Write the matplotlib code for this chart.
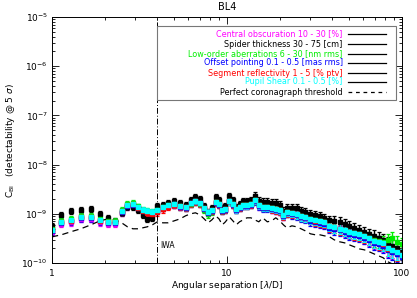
import numpy as np
import matplotlib
matplotlib.use('Agg')
import matplotlib.pyplot as plt
from matplotlib.ticker import NullFormatter
from matplotlib.patches import Rectangle

plt.rcParams['mathtext.fontset'] = 'dejavusans'

# angular separation [lambda/D]
sep = [1.0, 1.13, 1.28, 1.46, 1.67, 1.88, 2.1, 2.3, 2.5, 2.7,
       2.9, 3.1, 3.3, 3.5, 3.75, 4.0, 4.3, 4.6, 5.0, 5.4,
       5.8, 6.2, 6.6, 7.0, 7.4, 7.8, 8.2, 8.6, 9.0, 9.4,
       9.8, 10.3, 10.8, 11.3, 11.8, 12.4, 13.0, 13.7, 14.4, 15.2,
       16, 17, 18, 19, 20, 21, 22, 23.5, 25, 26.5,
       28, 30, 32, 34, 36, 38.5, 41, 44, 47, 50,
       53.5, 57, 61, 65, 69, 73.5, 78, 83, 88, 94, 100]

# contrast curves, in units of 1e-9
central_obsc = [0.42, 0.62, 0.67, 0.78, 0.78, 0.67, 0.62, 0.62, 1.05, 1.42,
                1.50, 1.30, 1.12, 1.06, 1.02, 1.15, 1.33, 1.46, 1.54, 1.40,
                1.34, 1.62, 1.78, 1.62, 1.28, 1.06, 1.17, 1.70, 1.55, 1.17,
                1.22, 1.78, 1.55, 1.22, 1.35, 1.47, 1.47, 1.55, 1.87, 1.47,
                1.35, 1.35, 1.28, 1.22, 1.17, 0.92, 1.07, 1.02, 0.97, 0.88,
                0.84, 0.77, 0.73, 0.70, 0.67, 0.55, 0.52, 0.48, 0.45, 0.41,
                0.39, 0.37, 0.34, 0.31, 0.265, 0.255, 0.235, 0.19, 0.175, 0.16, 0.138]
spider = [0.57, 0.95, 1.15, 1.21, 1.26, 1.00, 0.83, 0.72, 1.05, 1.39,
          1.39, 1.21, 0.95, 0.79, 0.83, 1.45, 1.52, 1.67, 1.84, 1.67,
          1.52, 1.93, 2.22, 2.02, 1.45, 1.10, 1.32, 2.22, 1.93, 1.32,
          1.45, 2.32, 1.93, 1.39, 1.60, 1.84, 1.84, 1.93, 2.32, 1.84,
          1.75, 1.75, 1.67, 1.67, 1.52, 1.15, 1.32, 1.32, 1.32, 1.15,
          1.10, 1.00, 0.95, 0.91, 0.83, 0.75, 0.72, 0.69, 0.63, 0.57,
          0.52, 0.47, 0.43, 0.39, 0.36, 0.325, 0.30, 0.26, 0.22, 0.20, 0.17]
low_order = [0.50, 0.73, 0.79, 0.91, 0.91, 0.79, 0.72, 0.72, 1.20, 1.58,
             1.66, 1.42, 1.21, 1.15, 1.08, 1.18, 1.36, 1.50, 1.58, 1.42,
             1.34, 1.60, 1.80, 1.60, 1.22, 0.98, 1.12, 1.70, 1.55, 1.15,
             1.22, 1.80, 1.58, 1.24, 1.36, 1.50, 1.50, 1.58, 1.90, 1.50,
             1.37, 1.37, 1.30, 1.24, 1.19, 0.94, 1.08, 1.04, 0.99, 0.90,
             0.86, 0.78, 0.74, 0.71, 0.68, 0.57, 0.54, 0.50, 0.47, 0.43,
             0.41, 0.39, 0.36, 0.33, 0.29, 0.28, 0.27, 0.30, 0.33, 0.27, 0.24]
offset_pointing = [0.44, 0.65, 0.70, 0.81, 0.81, 0.70, 0.65, 0.65, 1.08, 1.45,
                   1.53, 1.33, 1.15, 1.09, 1.04, 1.16, 1.34, 1.47, 1.55, 1.40,
                   1.34, 1.62, 1.78, 1.62, 1.27, 1.05, 1.16, 1.69, 1.54, 1.16,
                   1.21, 1.78, 1.54, 1.21, 1.33, 1.46, 1.46, 1.54, 1.86, 1.46,
                   1.33, 1.33, 1.26, 1.20, 1.15, 0.90, 1.04, 0.99, 0.94, 0.85,
                   0.81, 0.73, 0.69, 0.66, 0.63, 0.52, 0.49, 0.46, 0.43, 0.39,
                   0.37, 0.355, 0.33, 0.295, 0.255, 0.245, 0.225, 0.18, 0.17, 0.155, 0.133]
segment_refl = [0.46, 0.67, 0.73, 0.85, 0.85, 0.73, 0.67, 0.67, 1.12, 1.48,
                1.56, 1.33, 1.12, 1.04, 0.99, 1.08, 1.25, 1.40, 1.52, 1.42,
                1.36, 1.63, 1.80, 1.63, 1.29, 1.08, 1.18, 1.71, 1.57, 1.18,
                1.23, 1.80, 1.57, 1.23, 1.36, 1.49, 1.49, 1.57, 1.89, 1.49,
                1.36, 1.36, 1.29, 1.23, 1.18, 0.93, 1.08, 1.03, 0.98, 0.89,
                0.85, 0.77, 0.73, 0.70, 0.67, 0.56, 0.53, 0.49, 0.46, 0.42,
                0.40, 0.38, 0.35, 0.32, 0.275, 0.265, 0.245, 0.195, 0.18, 0.165, 0.144]
pupil_shear = [0.47, 0.69, 0.75, 0.87, 0.87, 0.75, 0.69, 0.69, 1.15, 1.52,
               1.60, 1.39, 1.21, 1.15, 1.10, 1.21, 1.39, 1.52, 1.60, 1.45,
               1.39, 1.67, 1.84, 1.67, 1.32, 1.10, 1.21, 1.75, 1.60, 1.21,
               1.26, 1.84, 1.60, 1.26, 1.39, 1.52, 1.52, 1.60, 1.93, 1.52,
               1.39, 1.39, 1.32, 1.26, 1.21, 0.95, 1.10, 1.05, 1.00, 0.91,
               0.87, 0.79, 0.75, 0.72, 0.69, 0.57, 0.54, 0.50, 0.47, 0.43,
               0.41, 0.39, 0.36, 0.325, 0.28, 0.27, 0.25, 0.20, 0.185, 0.17, 0.147]
threshold = [0.341, 0.374, 0.431, 0.496, 0.598, 0.721, 0.791, 0.755, 0.656, 0.544,
             0.496, 0.496, 0.519, 0.544, 0.598, 0.688, 0.656, 0.656, 0.721, 0.791,
             0.911, 1.0, 1.048, 0.954, 0.791, 0.656, 0.755, 0.911, 0.791, 0.598,
             0.688, 0.869, 0.721, 0.598, 0.688, 0.755, 0.829, 0.829, 0.755, 0.688,
             0.829, 0.688, 0.721, 0.829, 0.721, 0.598, 0.519, 0.570, 0.544, 0.496,
             0.451, 0.392, 0.374, 0.374, 0.357, 0.341, 0.296, 0.270, 0.257, 0.234,
             0.213, 0.194, 0.185, 0.169, 0.154, 0.140, 0.128, 0.106, 0.096, 0.084, 0.080]
# relative spread of each point
rel_err = [0.15, 0.14, 0.14, 0.14, 0.14, 0.14, 0.14, 0.14, 0.14, 0.14,
           0.14, 0.14, 0.14, 0.14, 0.15, 0.15, 0.15, 0.15, 0.15, 0.15,
           0.15, 0.15, 0.15, 0.15, 0.15, 0.15, 0.15, 0.15, 0.15, 0.15,
           0.15, 0.16, 0.16, 0.16, 0.16, 0.16, 0.16, 0.16, 0.17, 0.17,
           0.17, 0.17, 0.18, 0.18, 0.18, 0.18, 0.19, 0.19, 0.20, 0.20,
           0.20, 0.21, 0.21, 0.22, 0.22, 0.22, 0.23, 0.24, 0.24, 0.25,
           0.25, 0.26, 0.27, 0.28, 0.28, 0.29, 0.30, 0.30, 0.31, 0.32, 0.33]

labels = ['Central obscuration 10 - 30 [%]',
          'Spider thickness 30 - 75 [cm]',
          'Low-order aberrations 6 - 30 [nm rms]',
          'Offset pointing 0.1 - 0.5 [mas rms]',
          'Segment reflectivity 1 - 5 [% ptv]',
          'Pupil Shear 0.1 - 0.5 [%]']
colors = ['#ff00ff', 'black', '#00ee00', '#0000ff', '#ff0000', '#00ffff']
series = [central_obsc, spider, low_order, offset_pointing, segment_refl, pupil_shear]

fig = plt.figure(figsize=(4.17, 2.98), dpi=100)
ax = fig.add_axes([0.1247, 0.1174, 0.8393, 0.8256])

x = np.array(sep)
err = np.array(rel_err)
for vals, c in zip(series, colors):
    y = np.array(vals) * 1e-9
    ax.errorbar(x, y, yerr=err * y, fmt='s', ms=3.0, color=c, mec=c, ecolor=c,
                elinewidth=1.0, capsize=1.4, capthick=0.9)

ax.plot(x, np.array(threshold) * 1e-9, color='black', lw=0.9, ls=(0, (5, 3.5)))

# inner working angle
ax.axvline(4.0, color='black', lw=0.7, ls=(0, (6, 2, 1, 2)))
ax.text(4.15, 2.25e-10, 'IWA', fontsize=5.5, ha='left', va='center')

ax.set_xscale('log')
ax.set_yscale('log')
ax.set_xlim(1, 100)
ax.set_ylim(1e-10, 1e-5)
ax.set_xticks([1, 10, 100], ['1', '10', '100'])
ax.xaxis.set_minor_formatter(NullFormatter())
ax.tick_params(which='both', direction='in', top=True, right=True, labelsize=6.5, width=0.6)
ax.tick_params(which='major', length=5)
ax.tick_params(which='minor', length=2.5)
ax.tick_params(axis='x', pad=4)
ax.tick_params(axis='y', pad=3)
for s in ax.spines.values():
    s.set_linewidth(0.7)

ax.set_xlabel(r'Angular separation [$\lambda$/D]', fontsize=6.5, labelpad=1)
ax.set_ylabel(r'C$_{\rm BI}$   (detectability @ 5 $\sigma$)', fontsize=6.5, labelpad=3)
ax.set_title('BL4', fontsize=7, pad=5)

# legend box drawn by hand: coloured labels, black line samples
ax.add_patch(Rectangle((0.30, 0.663), 0.683, 0.30, transform=ax.transAxes,
                       fill=True, fc='white', ec='#777777', lw=0.8, zorder=5))
rows = [0.931, 0.890, 0.850, 0.813, 0.772, 0.736]
for lab, c, ry in zip(labels, colors, rows):
    ax.text(0.831, ry, lab, color=c, fontsize=5.8, ha='right', va='center',
            transform=ax.transAxes, zorder=6)
    ax.plot([0.846, 0.954], [ry, ry], color='black', lw=0.9, transform=ax.transAxes, zorder=6)
ax.text(0.831, 0.695, 'Perfect coronagraph threshold', color='black', fontsize=5.8,
        ha='right', va='center', transform=ax.transAxes, zorder=6)
ax.plot([0.846, 0.954], [0.695, 0.695], color='black', lw=0.9, ls=(0, (3, 3)),
        transform=ax.transAxes, zorder=6)

fig.savefig('out.png', dpi=100)
